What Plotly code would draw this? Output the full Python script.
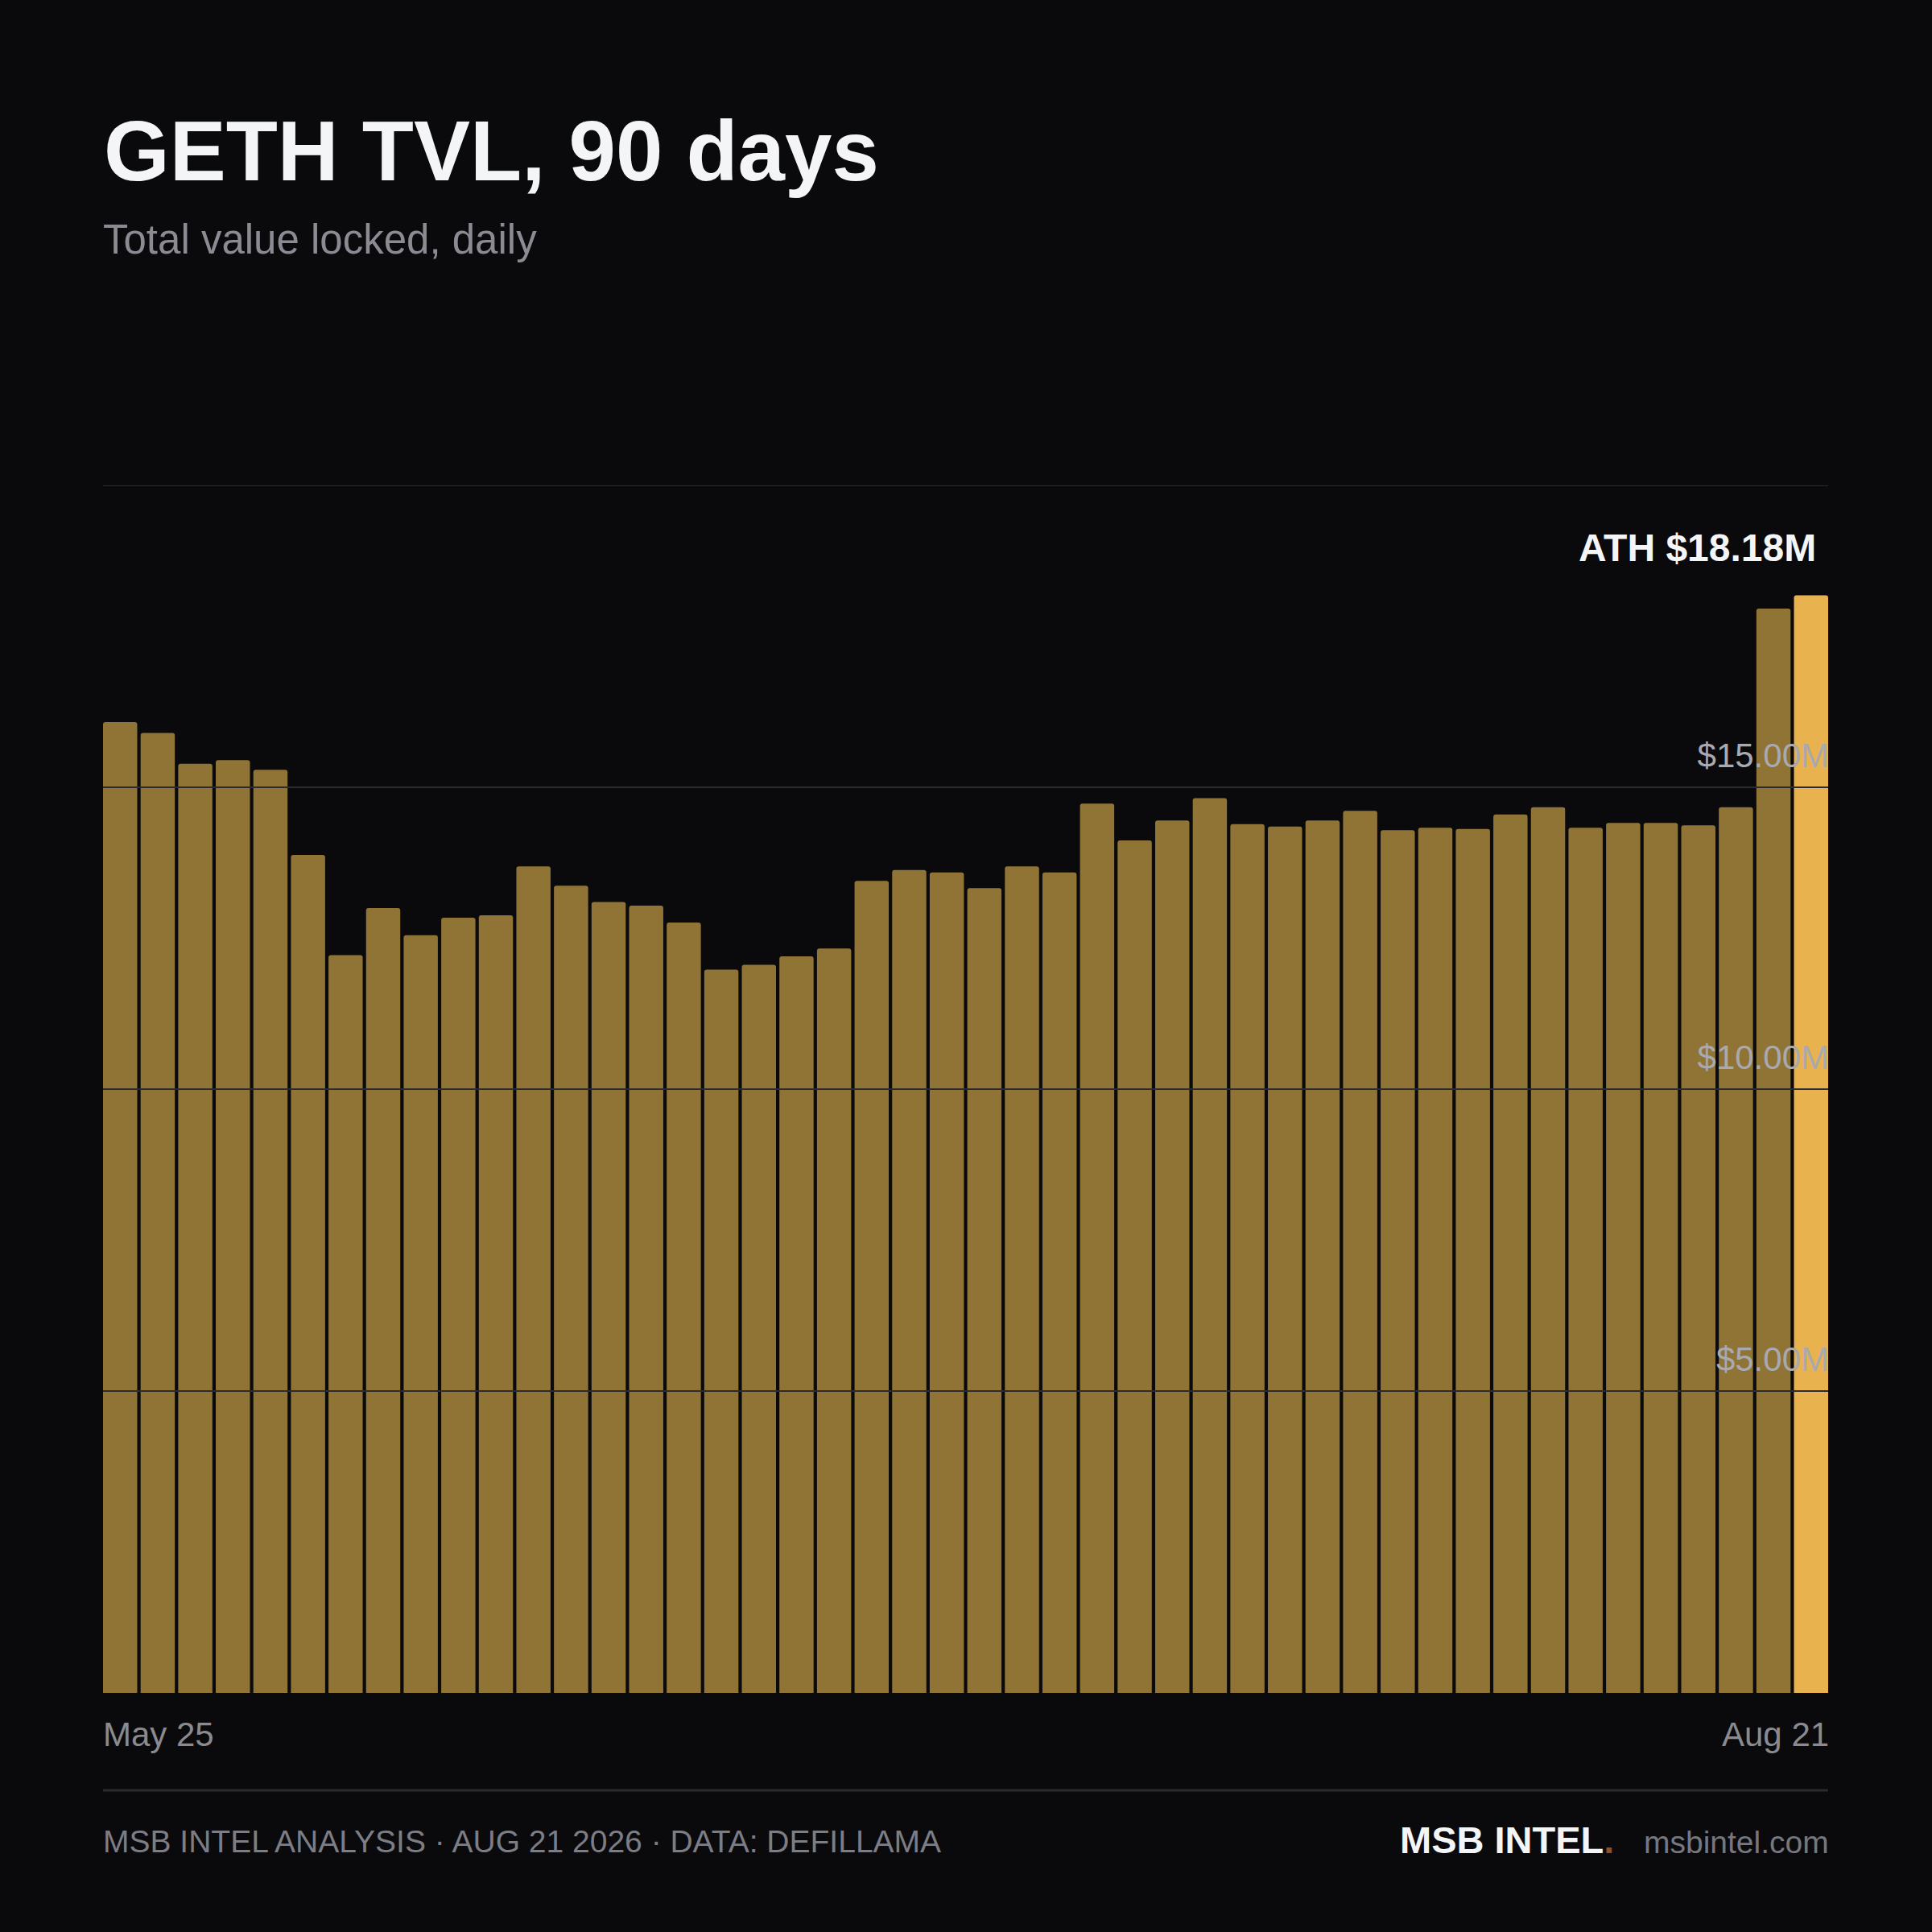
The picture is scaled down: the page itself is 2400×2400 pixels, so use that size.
import plotly.graph_objects as go

# daily TVL in $M, oldest first (46 bars over the 90-day window)
tvl = [
    16.08, 15.90, 15.39, 15.45, 15.29, 13.88, 12.22, 13.00, 12.55, 12.84,
    12.88, 13.69, 13.37, 13.10, 13.04, 12.76, 11.98, 12.06, 12.20, 12.33,
    13.45, 13.63, 13.59, 13.33, 13.69, 13.59, 14.73, 14.12, 14.45, 14.82,
    14.39, 14.35, 14.45, 14.61, 14.29, 14.33, 14.31, 14.55, 14.67, 14.33,
    14.41, 14.41, 14.37, 14.67, 17.96, 18.18,
]
x_labels = ["May 25", "Aug 21"]
y_ticks = [5, 10, 15]
grid_vals = [5, 10, 15, 20]

BG = "#0a0a0c"
BAR = "#8f7436"
HIGHLIGHT = "#e8b34e"
GRID = "#2a2a30"
FONT = "Liberation Sans, Arial, sans-serif"

W, H = 2400, 2400
L, R, T, B = 128, 129, 603, 297
plot_h = H - T - B
plot_w = W - L - R


def py(y):
    # pixel row -> paper y
    return (H - B - y) / plot_h


def px(x):
    return (x - L) / plot_w


ath = max(tvl)
colors = [HIGHLIGHT if v == ath else BAR for v in tvl]
idx = list(range(len(tvl)))
gap = 0.09

fig = go.Figure(
    go.Bar(
        x=idx,
        y=tvl,
        marker=dict(color=colors, line_width=0, cornerradius=3),
        hoverinfo="skip",
    )
)

for g in grid_vals:
    fig.add_shape(
        type="line", xref="paper", x0=0, x1=1, yref="y", y0=g, y1=g,
        line=dict(color=GRID, width=2), layer="above",
    )

# footer separator
fig.add_shape(
    type="line", xref="paper", x0=0, x1=1, yref="paper", y0=py(2224), y1=py(2224),
    line=dict(color=GRID, width=3),
)

ann = [
    dict(text="<b>GETH TVL, 90 days</b>", x=px(127), y=py(219 - 0.3 * 105), xanchor="left",
         yanchor="middle", font=dict(size=105, color="#f4f5f7")),
    dict(text="Total value locked, daily", x=px(126), y=py(313 - 0.3 * 51), xanchor="left",
         yanchor="middle", font=dict(size=51, color="#8b8b93")),
    dict(text=f"<b>ATH ${ath:.2f}M</b>", x=px(2258), y=py(695 - 0.3 * 48), xanchor="right",
         yanchor="middle", font=dict(size=48, color="#f4f5f7")),
    dict(text=x_labels[0], x=px(126), y=py(2167 - 0.3 * 42), xanchor="left",
         yanchor="middle", font=dict(size=42, color="#8a8a90")),
    dict(text=x_labels[1], x=px(2274), y=py(2167 - 0.3 * 42), xanchor="right",
         yanchor="middle", font=dict(size=42, color="#8a8a90")),
    dict(text="MSB INTEL ANALYSIS · AUG 21 2026 · DATA: DEFILLAMA", x=px(126),
         y=py(2299 - 0.3 * 39), xanchor="left", yanchor="middle",
         font=dict(size=39, color="#7d7d85")),
    dict(text="msbintel.com", x=px(2274), y=py(2300 - 0.3 * 39), xanchor="right",
         yanchor="middle", font=dict(size=39, color="#77777f")),
    dict(text="<b>MSB INTEL<span style='color:#8f4f27'>.</span></b>", x=px(2007),
         y=py(2300 - 0.3 * 47), xanchor="right", yanchor="middle",
         font=dict(size=47, color="#f4f5f7")),
]
for a in ann:
    fig.add_annotation(xref="paper", yref="paper", showarrow=False, **a)

fig.update_xaxes(
    range=[-0.5 + gap / 2, len(tvl) - 0.5 - gap / 2],
    showticklabels=False, showgrid=False, zeroline=False, showline=False,
)
fig.update_yaxes(
    range=[0, 20], side="right", tickvals=y_ticks,
    ticktext=[f"${v:.2f}M" for v in y_ticks],
    ticklabelposition="inside top", ticklabelshift=-10, ticklabelstandoff=-4,
    ticks="", tickfont=dict(size=42, color="#a9a9b0"),
    showgrid=False, zeroline=False, showline=False,
)

fig.update_layout(
    width=W, height=H,
    margin=dict(l=L, r=R, t=T, b=B),
    paper_bgcolor=BG, plot_bgcolor=BG,
    font=dict(family=FONT),
    bargap=gap,
    showlegend=False,
)

fig.write_html(
    "out.html",
    config={"displayModeBar": False},
    post_script="document.body.style.margin='0';document.body.style.background='#0a0a0c';",
)
